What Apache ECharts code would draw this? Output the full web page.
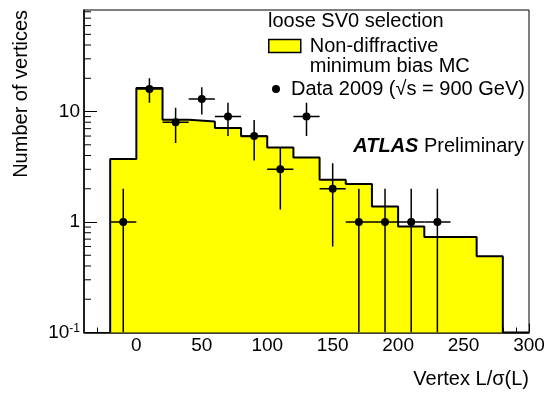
<!DOCTYPE html>
<html>
<head>
<meta charset="utf-8">
<script src="https://cdn.jsdelivr.net/npm/echarts@6/dist/echarts.min.js"></script>
<style>
  html, body { margin: 0; padding: 0; background: #fff; }
  #chart { width: 546px; height: 394px; }
</style>
</head>
<body>
<div id="chart"></div>
<script>
// MC histogram: lower bin edges and contents (bin width 20)
const binLow = [-20, 0, 20, 40, 60, 80, 100, 120, 140, 160, 180, 200, 220, 240, 260, 280];
const binWidth = 20;
const mcCounts = [3.72, 16.3, 8.43, 8.13, 7.1, 5.96, 4.73, 3.84, 2.41, 2.21, 1.38, 0.91, 0.73, 0.73, 0.49, 0.1];

// data points with vertical errors
const dataX = [-10, 10, 30, 50, 70, 90, 110, 130, 150, 170, 190, 210, 230];
const dataY = [1, 16, 8, 13, 9, 6, 3, 9, 2, 1, 1, 1, 1];
const dataErr = [1, 4, 2.8, 3.6, 3, 2.4, 1.7, 3, 1.4, 1, 1, 1, 1];

// ticks
const xMajorTicks = [0, 50, 100, 150, 200, 250, 300];
const xMinorTicks = [-30, -20, -10, 10, 20, 30, 40, 60, 70, 80, 90, 110, 120, 130, 140,
  160, 170, 180, 190, 210, 220, 230, 240, 260, 270, 280, 290];
const yMajorTicks = [0.1, 1, 10];
const yMinorTicks = [0.2, 0.3, 0.4, 0.5, 0.6, 0.7, 0.8, 0.9, 2, 3, 4, 5, 6, 7, 8, 9,
  20, 30, 40, 50, 60, 70, 80];

const xMin = -40, xMax = 300, yMin = 0.1, yMax = 83;
const FONT = "'Liberation Sans', Arial, Helvetica, sans-serif";
const FS = 20;      // titles, legend
const FS_TICK = 19; // tick labels
const mcName = "Non-diffractive\nminimum bias MC";
const dataName = "Data 2009 (\u221as = 900 GeV)";

// step outline of the histogram
const histLine = [[binLow[0], yMin]];
binLow.forEach((lo, i) => histLine.push([lo, mcCounts[i]]));
histLine.push([binLow[binLow.length - 1] + binWidth, mcCounts[mcCounts.length - 1]]);

const points = dataX.map((x, i) => [x, dataY[i], dataErr[i]]);

const chart = echarts.init(document.getElementById("chart"));
chart.setOption({
  animation: false,
  textStyle: { fontFamily: FONT },
  grid: {
    left: 84, right: 17, top: 10, bottom: 61.5,
    outerBoundsMode: "none",
    show: true, borderColor: "#000", borderWidth: 1
  },
  title: [
    {
      text: "loose SV0 selection",
      left: 268, top: 11, padding: 0,
      textStyle: { fontFamily: FONT, fontSize: FS, fontWeight: "normal", color: "#000" }
    },
    {
      text: "{a|ATLAS}{b| Preliminary}",
      right: 22, top: 136, padding: 0,
      textStyle: {
        rich: {
          a: { fontFamily: FONT, fontSize: FS, fontWeight: "bold", fontStyle: "italic", color: "#000" },
          b: { fontFamily: FONT, fontSize: FS, fontWeight: "normal", color: "#000" }
        }
      }
    }
  ],
  graphic: [
    {
      type: "text", x: 21, y: 10, rotation: Math.PI / 2,
      style: { text: "Number of vertices", font: FS + "px " + FONT, fill: "#000", align: "right", verticalAlign: "middle" }
    }
  ],
  legend: [
    {
      data: [{
        name: mcName, icon: "rect",
        itemStyle: { color: "#ffff00", borderColor: "#000", borderWidth: 1.5 }
      }],
      formatter: (name) => "\n" + name,
      left: 268, top: 16, padding: 0,
      itemWidth: 32, itemHeight: 13,
      selectedMode: false,
      textStyle: { fontFamily: FONT, fontSize: FS, lineHeight: 20, color: "#000", padding: [0, 0, 0, 4] }
    },
    {
      data: [{ name: dataName, icon: "circle", itemStyle: { color: "#000" } }],
      left: 272, top: 79, padding: 0,
      itemWidth: 8, itemHeight: 8,
      selectedMode: false,
      textStyle: { fontFamily: FONT, fontSize: FS, color: "#000", padding: [0, 0, 0, 6] }
    }
  ],
  xAxis: [
    {
      type: "value", min: xMin, max: xMax,
      name: "Vertex L/\u03c3(L)",
      nameLocation: "end", nameGap: 0,
      nameTextStyle: { fontFamily: FONT, fontSize: FS, color: "#000", align: "right", verticalAlign: "top", padding: [37, 0, 0, 0] },
      axisLine: { onZero: false, lineStyle: { color: "#000", width: 1.5 } },
      axisTick: { inside: true, length: 9, customValues: xMajorTicks, lineStyle: { color: "#000", width: 1 } },
      axisLabel: { customValues: xMajorTicks, margin: 4, fontFamily: FONT, fontSize: FS_TICK, color: "#000" },
      splitLine: { show: false }
    },
    {
      type: "value", min: xMin, max: xMax, position: "bottom",
      axisLine: { show: false, onZero: false },
      axisTick: { inside: true, length: 5, customValues: xMinorTicks, lineStyle: { color: "#000", width: 1 } },
      axisLabel: { show: false },
      splitLine: { show: false }
    }
  ],
  yAxis: {
    type: "log", logBase: 10, min: yMin, max: yMax,
    axisLine: { onZero: false, lineStyle: { color: "#000", width: 1.5 } },
    axisTick: { inside: true, length: 13, customValues: yMajorTicks, lineStyle: { color: "#000", width: 1 } },
    axisLabel: {
      customValues: yMajorTicks, margin: 4, color: "#000",
      formatter: (v) => (v < 0.5 ? "{n|10}{s|-1}" : "{n|" + Math.round(v) + "}"),
      rich: {
        n: { fontFamily: FONT, fontSize: FS_TICK, color: "#000" },
        s: { fontFamily: FONT, fontSize: 12, color: "#000", verticalAlign: "top", padding: [0, 0, 8, 0] }
      }
    },
    splitLine: { show: false }
  },
  series: [
    {
      name: mcName,
      type: "line",
      step: "end",
      data: histLine,
      symbol: "none",
      lineStyle: { color: "#000", width: 2 },
      itemStyle: { color: "#ffff00", borderColor: "#000" },
      areaStyle: { color: "#ffff00", opacity: 1 },
      z: 1
    },
    {
      // minor ticks of the log axis, placed through the axis scale
      type: "custom",
      data: yMinorTicks.map((v) => [xMin, v]),
      silent: true,
      renderItem: (params, api) => {
        const p = api.coord([api.value(0), api.value(1)]);
        return {
          type: "line",
          shape: { x1: p[0], y1: p[1], x2: p[0] + 7, y2: p[1] },
          style: { stroke: "#000", lineWidth: 1 }
        };
      },
      z: 5
    },
    {
      type: "custom",
      data: points,
      clip: true,
      renderItem: (params, api) => {
        const x = api.value(0), y = api.value(1), e = api.value(2);
        const lo = Math.max(y - e, yMin);
        const top = api.coord([x, y + e]);
        const bot = api.coord([x, lo]);
        const left = api.coord([x - binWidth / 2, y]);
        const right = api.coord([x + binWidth / 2, y]);
        const st = { stroke: "#000", lineWidth: 1.5 };
        return {
          type: "group",
          children: [
            { type: "line", shape: { x1: top[0], y1: top[1], x2: bot[0], y2: bot[1] }, style: st },
            { type: "line", shape: { x1: left[0], y1: left[1], x2: right[0], y2: right[1] }, style: st }
          ]
        };
      },
      z: 3
    },
    {
      name: dataName,
      type: "scatter",
      data: points,
      symbol: "circle",
      symbolSize: 8,
      itemStyle: { color: "#000", opacity: 1 },
      z: 4
    }
  ]
});
</script>
</body>
</html>
